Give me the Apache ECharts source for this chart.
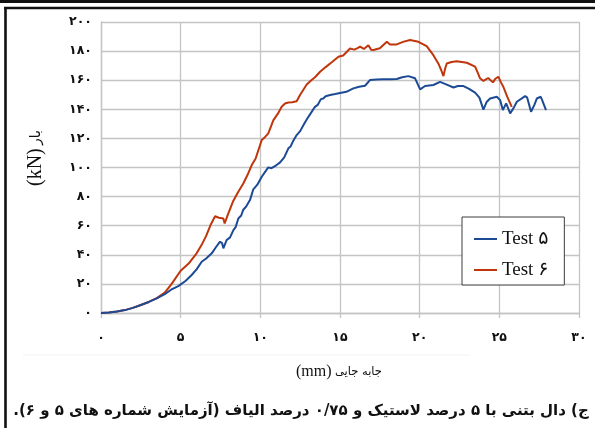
<!DOCTYPE html>
<html>
<head>
<meta charset="utf-8">
<script src="https://cdn.jsdelivr.net/npm/echarts@6/dist/echarts.min.js"></script>
<style>
  html, body { margin: 0; padding: 0; background: #fff; }
  #chart { width: 595px; height: 428px; }
</style>
</head>
<body>
<div id="chart"></div>
<script>
// Load–displacement curves of the two slab tests
const xTickLabels = ['۰', '۵', '۱۰', '۱۵', '۲۰', '۲۵', '۳۰'];
const yTickLabels = ['۰', '۲۰', '۴۰', '۶۰', '۸۰', '۱۰۰', '۱۲۰', '۱۴۰', '۱۶۰', '۱۸۰', '۲۰۰'];
const seriesNames = ['Test ۵', 'Test ۶'];

// Test 5: displacement (mm) and load (kN)
const test5Disp = [0, 0.5, 1.0, 1.5, 2.0, 2.5, 3.0, 3.5, 4.0, 4.4, 4.85, 5.3, 5.69, 6.0, 6.32, 6.6, 6.95, 7.2, 7.47, 7.6, 7.68, 7.89, 8.1, 8.31, 8.45, 8.62, 8.8, 8.93, 9.1, 9.35, 9.56, 9.8, 10.09, 10.3, 10.5, 10.7, 11.0, 11.24, 11.5, 11.76, 11.9, 12.05, 12.28, 12.5, 12.7, 12.91, 13.15, 13.43, 13.6, 13.8, 13.95, 14.1, 14.38, 14.7, 15.0, 15.4, 15.84, 16.2, 16.57, 16.88, 17.3, 17.72, 18.2, 18.56, 18.9, 19.29, 19.71, 19.85, 20.03, 20.34, 20.86, 21.28, 21.7, 22.12, 22.4, 22.75, 23.1, 23.48, 23.75, 24.0, 24.2, 24.42, 24.84, 25.05, 25.22, 25.43, 25.68, 25.9, 26.1, 26.62, 26.75, 26.99, 27.2, 27.35, 27.6, 27.7, 27.93];
const test5Load = [0, 0.3, 1.0, 2.0, 3.5, 5.5, 7.6, 10.0, 13.0, 16.0, 18.5, 22.0, 26.1, 30.0, 35.2, 37.5, 41.0, 45.0, 49.0, 48.0, 44.5, 50.2, 52.0, 57.0, 59.0, 65.0, 67.0, 71.0, 73.0, 77.6, 85.0, 88.0, 93.6, 97.0, 100.1, 99.5, 101.5, 103.5, 107.0, 113.2, 114.5, 118.0, 122.3, 125.0, 129.0, 133.0, 137.0, 141.7, 143.0, 147.0, 147.4, 149.0, 149.8, 150.5, 151.2, 152.0, 154.4, 155.5, 156.2, 160.1, 160.5, 160.6, 160.7, 160.8, 162.0, 162.8, 161.3, 158.0, 153.7, 156.0, 156.7, 158.9, 157.0, 155.0, 156.0, 156.0, 154.0, 151.4, 148.0, 139.8, 145.0, 147.4, 148.6, 146.3, 139.5, 144.1, 137.2, 141.0, 145.2, 149.1, 148.0, 138.3, 143.0, 147.4, 148.6, 146.0, 139.5];

// Test 6: displacement (mm) and load (kN)
const test6Disp = [0, 0.5, 1.0, 1.5, 2.0, 2.5, 3.0, 3.5, 4.0, 4.4, 5.0, 5.5, 6.0, 6.3, 6.6, 6.9, 7.16, 7.4, 7.68, 7.76, 7.95, 8.3, 8.6, 8.93, 9.2, 9.46, 9.7, 9.88, 10.09, 10.3, 10.5, 10.82, 11.1, 11.34, 11.55, 11.76, 12.0, 12.28, 12.49, 12.91, 13.2, 13.43, 13.75, 14.1, 14.5, 14.9, 15.2, 15.63, 15.9, 16.1, 16.26, 16.5, 16.78, 16.95, 17.1, 17.5, 17.94, 18.14, 18.56, 19.0, 19.4, 19.92, 20.44, 20.86, 21.17, 21.35, 21.49, 21.6, 21.7, 22.0, 22.33, 22.96, 23.48, 23.65, 23.79, 24.0, 24.1, 24.3, 24.42, 24.6, 24.75, 24.94, 25.1, 25.25, 25.5, 25.78];
const test6Load = [0, 0.3, 1.0, 2.0, 3.5, 5.5, 7.6, 10.2, 14.0, 19.5, 29.0, 34.0, 41.0, 46.5, 53.0, 61.0, 66.5, 65.5, 65.0, 61.5, 67.3, 77.0, 83.0, 89.0, 95.0, 101.7, 106.0, 112.0, 118.9, 121.0, 123.5, 132.6, 137.0, 141.7, 144.0, 144.7, 144.8, 145.5, 149.8, 157.0, 160.0, 162.0, 165.8, 169.0, 172.5, 176.1, 177.0, 181.8, 181.0, 182.0, 183.0, 181.5, 184.0, 181.0, 180.7, 182.0, 186.4, 184.6, 184.6, 186.5, 187.6, 186.4, 183.4, 177.2, 171.5, 167.0, 162.8, 168.0, 171.5, 172.5, 173.1, 172.0, 169.3, 165.0, 161.3, 159.5, 158.9, 161.5, 161.7, 158.5, 161.0, 162.4, 158.5, 155.5, 148.5, 141.7];

const caption = 'ج) دال بتنی با ۵ درصد لاستیک و ۰/۷۵ درصد الیاف (آزمایش شماره های ۵ و ۶).';
const xName = 'جابه جایی';
const yName = 'بار';

const pairs = (xs, ys) => xs.map((x, i) => [x, ys[i]]);

const gridColor = '#c4c4c4';
const persianFont = '"DejaVu Sans"';
const serifFont = '"Liberation Serif", "DejaVu Sans"';

const chart = echarts.init(document.getElementById('chart'), null, { renderer: 'canvas' });
chart.setOption({
  animation: false,
  backgroundColor: '#ffffff',
  grid: { left: 101, right: 16, top: 22, bottom: 115 },
  xAxis: {
    type: 'value', min: 0, max: 30, interval: 5,
    axisLine: { show: true, onZero: false, lineStyle: { color: gridColor, width: 1.3 } },
    axisTick: { show: true, length: 5, lineStyle: { color: gridColor, width: 1.3 } },
    splitLine: { show: true, lineStyle: { color: gridColor, width: 1.3 } },
    axisLabel: {
      margin: 18, color: '#111', fontFamily: persianFont, fontWeight: 'bold', fontSize: 12.5,
      formatter: v => xTickLabels[Math.round(v / 5)]
    }
  },
  yAxis: {
    type: 'value', min: 0, max: 200, interval: 20,
    axisLine: { show: true, lineStyle: { color: gridColor, width: 1.3 } },
    axisTick: { show: false },
    splitLine: { show: true, lineStyle: { color: gridColor, width: 1.3 } },
    axisLabel: {
      margin: 9, color: '#111', fontFamily: persianFont, fontWeight: 'bold', fontSize: 12.5,
      formatter: v => yTickLabels[Math.round(v / 20)]
    }
  },
  legend: {
    orient: 'vertical',
    left: 462, top: 217,
    padding: [12, 16, 5, 12],
    itemGap: 11,
    itemWidth: 23, itemHeight: 2,
    icon: 'rect',
    backgroundColor: '#fff',
    borderColor: '#3c3c3c', borderWidth: 1, borderRadius: 0,
    textStyle: { fontFamily: serifFont, fontSize: 19, color: '#111', lineHeight: 20 },
    data: seriesNames
  },
  series: [
    {
      name: seriesNames[0], type: 'line', showSymbol: false, symbol: 'none',
      lineStyle: { color: '#1d4a94', width: 2 }, itemStyle: { color: '#1d4a94' },
      data: pairs(test5Disp, test5Load), z: 3
    },
    {
      name: seriesNames[1], type: 'line', showSymbol: false, symbol: 'none',
      lineStyle: { color: '#c0360c', width: 2 }, itemStyle: { color: '#c0360c' },
      data: pairs(test6Disp, test6Load), z: 2
    }
  ],
  graphic: [
    // outer frame
    { type: 'rect', shape: { x: 0, y: 0, width: 595, height: 3 }, style: { fill: '#111' } },
    { type: 'line', shape: { x1: 4, y1: 8, x2: 595, y2: 8 }, style: { stroke: '#111', lineWidth: 2.4 } },
    { type: 'line', shape: { x1: 5.5, y1: 7, x2: 5.5, y2: 428 }, style: { stroke: '#111', lineWidth: 2.6 } },
    { type: 'line', shape: { x1: 23, y1: 355, x2: 470, y2: 355 }, style: { stroke: '#f2f2f2', lineWidth: 1 } },
    // axis titles
    {
      type: 'text', x: 339, y: 372,
      style: {
        text: '{a|(mm)} {b|' + xName + '}',
        align: 'center', verticalAlign: 'middle',
        rich: {
          a: { fontFamily: serifFont, fontSize: 16, fill: '#111' },
          b: { fontFamily: persianFont, fontSize: 11.5, fill: '#111' }
        }
      }
    },
    {
      type: 'text', x: 36, y: 158, rotation: Math.PI / 2,
      style: {
        text: '{a|(kN)} {b|' + yName + '}',
        align: 'center', verticalAlign: 'middle',
        rich: {
          a: { fontFamily: serifFont, fontSize: 20, fill: '#111' },
          b: { fontFamily: persianFont, fontSize: 14, fill: '#111' }
        }
      }
    },
    // figure caption
    {
      type: 'text', x: 301, y: 411,
      style: {
        text: '\u202B' + caption + '\u202C',
        align: 'center', verticalAlign: 'middle',
        fontFamily: persianFont, fontWeight: 'bold', fontSize: 15, fill: '#111'
      }
    }
  ]
});
</script>
</body>
</html>
